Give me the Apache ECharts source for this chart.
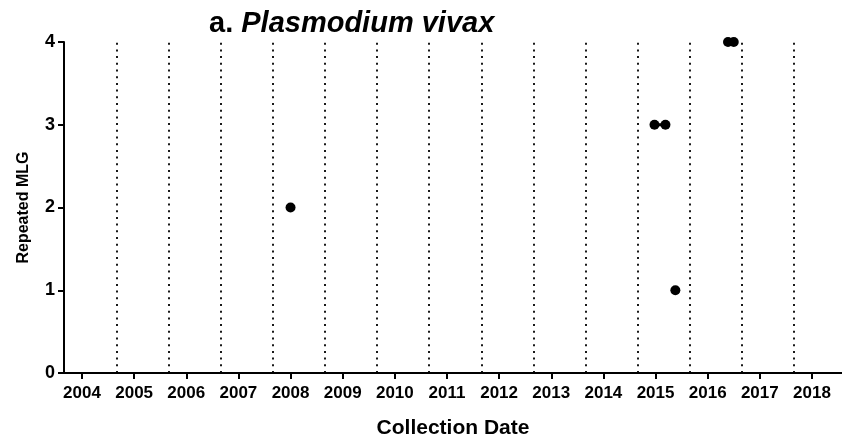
<!DOCTYPE html>
<html>
<head>
<meta charset="utf-8">
<script src="https://cdn.jsdelivr.net/npm/echarts@6/dist/echarts.min.js"></script>
<style>
    html, body { margin: 0; padding: 0; background: #fff; }
    #chart { width: 842px; height: 442px; }
</style>
</head>
<body>
<div id="chart"></div>
<script>
    // tick labels on the x axis (years)
    const yearTicks = [2004, 2005, 2006, 2007, 2008, 2009, 2010, 2011, 2012, 2013, 2014, 2015, 2016, 2017, 2018];
    // dotted separators, a bit after each year tick
    const dividerYears = [2004.66, 2005.66, 2006.66, 2007.66, 2008.66, 2009.66, 2010.66,
        2011.66, 2012.66, 2013.66, 2014.66, 2015.66, 2016.66, 2017.66];

    // repeated MLG groups: [collection date (decimal year), MLG]
    const mlg2 = [[2008.0, 2]];
    const mlg3 = [[2014.98, 3], [2015.19, 3]];
    const mlg1 = [[2015.38, 1]];
    const mlg4 = [[2016.39, 4], [2016.5, 4]];

    const font = '"Liberation Sans", Arial, sans-serif';
    let chart = echarts.init(document.getElementById('chart'));

    function groupSeries(name, data) {
        return {
            name: name,
            type: 'line',
            data: data,
            symbol: 'circle',
            symbolSize: 10,
            itemStyle: { color: '#000' },
            lineStyle: { color: '#000', width: 3 },
            animation: false
        };
    }

    let series = [
        groupSeries('MLG 2', mlg2),
        groupSeries('MLG 3', mlg3),
        groupSeries('MLG 1', mlg1),
        groupSeries('MLG 4', mlg4)
    ];
    series[0].markLine = {
        silent: true,
        symbol: ['none', 'none'],
        label: { show: false },
        lineStyle: { color: '#000', width: 2, type: [2, 4.7], opacity: 0.9 },
        data: dividerYears.map(function (v) { return { xAxis: v }; })
    };

    const option = {
        animation: false,
        title: {
            text: '{a|a. }{b|Plasmodium vivax}',
            left: 204,
            top: 4,
            textStyle: {
                rich: {
                    a: { fontFamily: font, fontWeight: 'bold', fontSize: 29, color: '#000' },
                    b: { fontFamily: font, fontWeight: 'bold', fontStyle: 'italic', fontSize: 29, color: '#000' }
                }
            }
        },
        grid: {
            left: 64,
            right: 0,
            top: 42,
            bottom: 69,
            containLabel: false,
            outerBoundsMode: 'none'
        },
        xAxis: {
            type: 'value',
            min: 2003.655,
            max: 2018.576,
            name: 'Collection Date',
            nameLocation: 'middle',
            nameGap: 45,
            nameTextStyle: { fontFamily: font, fontWeight: 'bold', fontSize: 21, color: '#000' },
            axisLine: { lineStyle: { color: '#000', width: 2 } },
            axisTick: { show: true, length: 6, lineStyle: { color: '#000', width: 2 }, customValues: yearTicks },
            axisLabel: {
                customValues: yearTicks,
                margin: 12,
                fontFamily: font, fontWeight: 'bold', fontSize: 17, color: '#000',
                formatter: function (v) { return String(Math.round(v)); }
            },
            splitLine: { show: false }
        },
        yAxis: {
            type: 'value',
            min: 0,
            max: 4,
            interval: 1,
            name: 'Repeated MLG',
            nameLocation: 'middle',
            nameGap: 32,
            nameTextStyle: { fontFamily: font, fontWeight: 'bold', fontSize: 16, color: '#000' },
            axisLine: { show: true, lineStyle: { color: '#000', width: 2 } },
            axisTick: { show: true, length: 6, lineStyle: { color: '#000', width: 2 } },
            axisLabel: { margin: 9, fontFamily: font, fontWeight: 'bold', fontSize: 18, color: '#000' },
            splitLine: { show: false }
        },
        series: series
    };

    chart.setOption(option);

    window.addEventListener('resize', function () {
        chart.resize();
    });
</script>
</body>
</html>
